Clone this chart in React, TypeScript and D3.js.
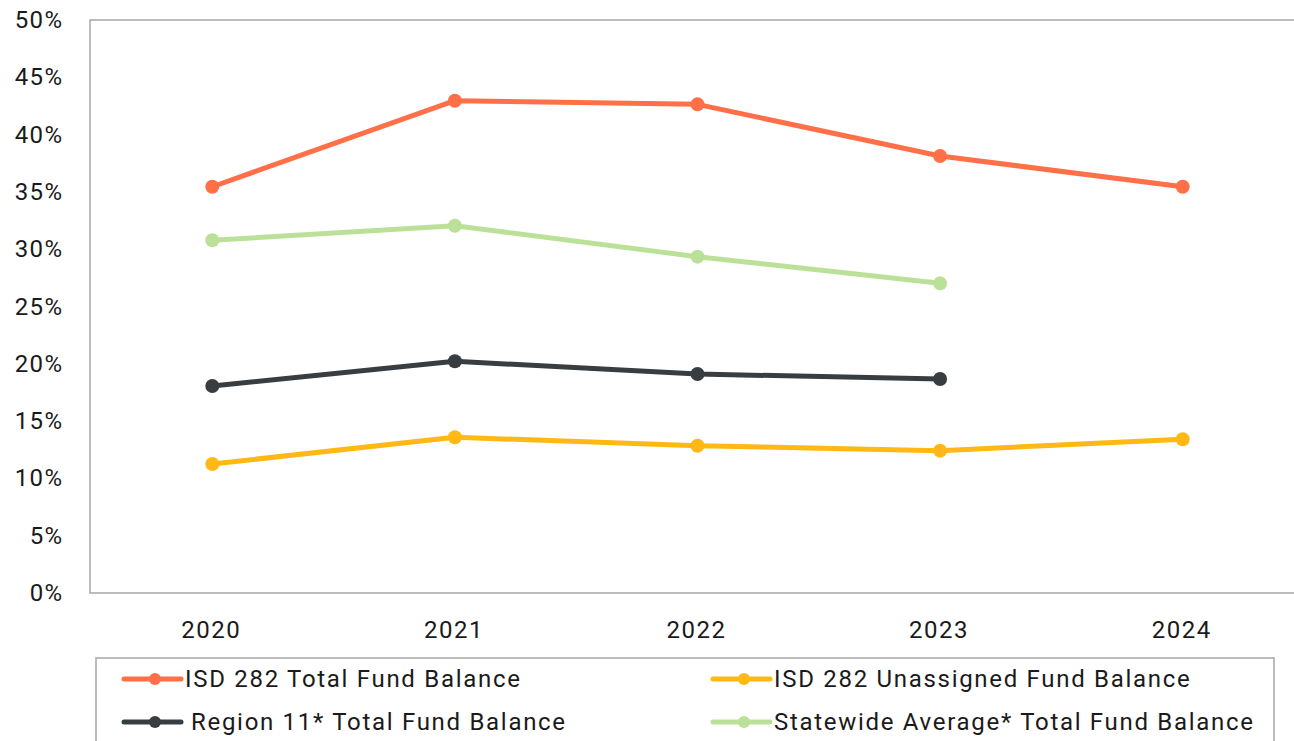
import React from "react";
import * as d3 from "d3";

const years = ["2020", "2021", "2022", "2023", "2024"];
const yTicks = [0, 5, 10, 15, 20, 25, 30, 35, 40, 45, 50];

const isdTotal = [35.45, 42.96, 42.64, 38.13, 35.45];
const isdUnassigned = [11.26, 13.59, 12.85, 12.42, 13.41];
const region11Total = [18.06, 20.22, 19.11, 18.67];
const statewideTotal = [30.78, 32.05, 29.35, 27.02];

const seriesNames = [
  "ISD 282 Total Fund Balance",
  "ISD 282 Unassigned Fund Balance",
  "Region 11* Total Fund Balance",
  "Statewide Average* Total Fund Balance",
];
const seriesColors = ["#FF7048", "#FFB814", "#383D41", "#BBE199"];

const W = 1294;
const H = 741;
const left = 90;
const top = 20;
const bottom = 593;
const right = 1304;

export default function App() {
  const x = d3.scalePoint<string>().domain(years).range([left + 1, right]).padding(0.5);
  const y = d3.scaleLinear().domain([0, 50]).range([bottom, top]);

  const series = [
    { name: seriesNames[0], color: seriesColors[0], values: isdTotal },
    { name: seriesNames[1], color: seriesColors[1], values: isdUnassigned },
    { name: seriesNames[2], color: seriesColors[2], values: region11Total },
    { name: seriesNames[3], color: seriesColors[3], values: statewideTotal },
  ];

  const line = d3
    .line<number>()
    .x((_, i) => x(years[i]) as number)
    .y((d) => y(d));

  const drawOrder = [series[3], series[2], series[1], series[0]];

  const legendItems = [
    { s: series[0], lx: 124, ly: 679, tx: 185 },
    { s: series[1], lx: 713, ly: 679, tx: 774 },
    { s: series[2], lx: 124, ly: 722, tx: 191 },
    { s: series[3], lx: 713, ly: 722, tx: 774 },
  ];

  const font = "Roboto, 'Noto Sans', sans-serif";

  return (
    <svg
      width={W}
      height={H}
      style={{ position: "absolute", left: 0, top: 0, background: "#fff" }}
      fontFamily={font}
    >
      <rect x={0} y={0} width={W} height={H} fill="#fff" />
      {/* plot frame */}
      <rect
        x={left}
        y={top}
        width={right - left}
        height={bottom - top}
        fill="none"
        stroke="#A6A6A6"
        strokeWidth={1.5}
      />
      {/* y tick labels */}
      {yTicks.map((t) => (
        <text
          key={t}
          x={63.5}
          y={y(t)}
          textAnchor="end"
          dominantBaseline="central"
          fontSize={24}
          letterSpacing={1.4}
          fill="#1a1a1a"
        >
          {t}%
        </text>
      ))}
      {/* x tick labels */}
      {years.map((yr) => (
        <text
          key={yr}
          x={(x(yr) as number) - 1}
          y={630}
          textAnchor="middle"
          dominantBaseline="central"
          fontSize={24}
          letterSpacing={1.5}
          fill="#1a1a1a"
        >
          {yr}
        </text>
      ))}
      {/* lines */}
      {drawOrder.map((s) => (
        <g key={s.name}>
          <path
            d={line(s.values) || ""}
            fill="none"
            stroke={s.color}
            strokeWidth={5}
            strokeLinejoin="round"
            strokeLinecap="round"
          />
          {s.values.map((v, i) => (
            <circle key={i} cx={x(years[i]) as number} cy={y(v)} r={7} fill={s.color} />
          ))}
        </g>
      ))}
      {/* legend */}
      <rect x={96} y={658} width={1178} height={120} fill="none" stroke="#A6A6A6" strokeWidth={1.5} />
      {legendItems.map(({ s, lx, ly, tx }) => (
        <g key={s.name}>
          <line x1={lx} x2={lx + 57} y1={ly} y2={ly} stroke={s.color} strokeWidth={5} strokeLinecap="round" />
          <circle cx={lx + 31} cy={ly} r={6} fill={s.color} />
          <text x={tx} y={ly} dominantBaseline="central" fontSize={24} letterSpacing={1.7} fill="#1a1a1a">
            {s.name}
          </text>
        </g>
      ))}
    </svg>
  );
}
